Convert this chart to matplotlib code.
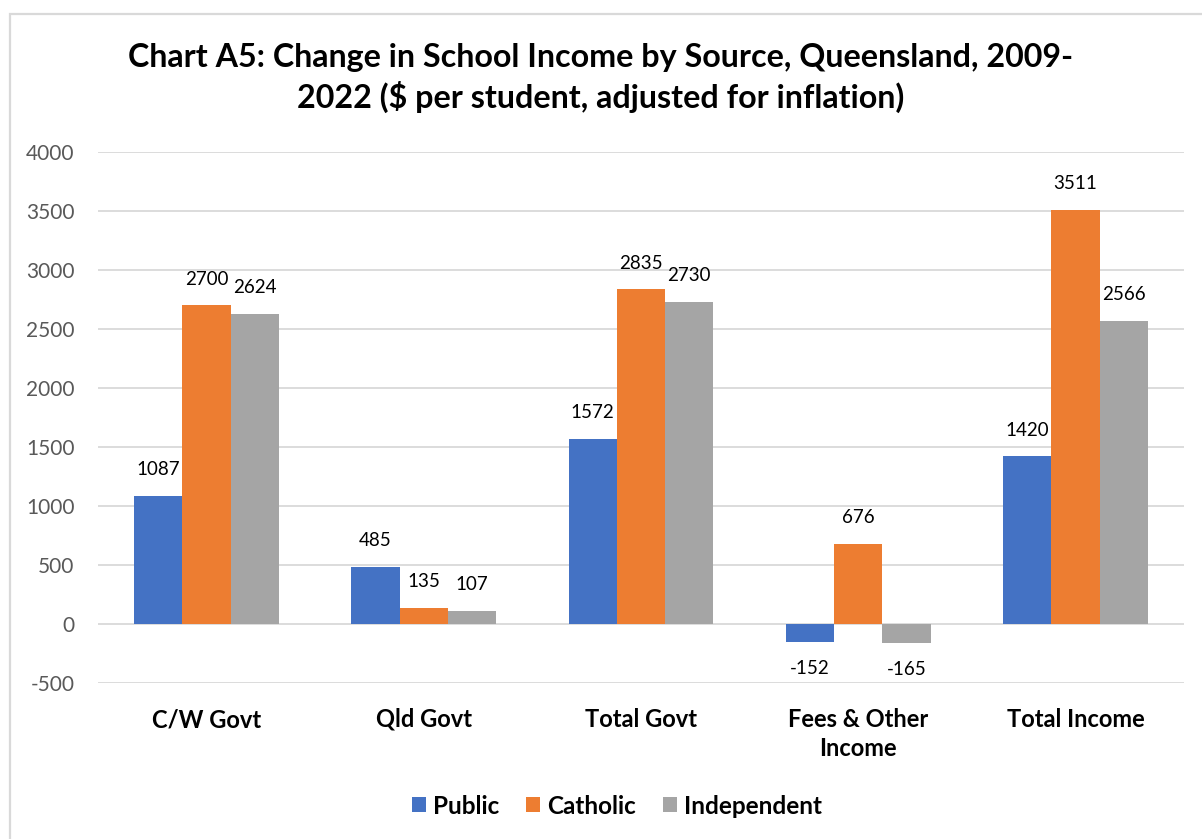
import numpy as np
import matplotlib
matplotlib.use("Agg")
import matplotlib.pyplot as plt
from matplotlib.patches import Rectangle

plt.rcParams["font.family"] = ["Lato", "DejaVu Sans"]
plt.rcParams["axes.unicode_minus"] = False

categories = ["C/W Govt", "Qld Govt", "Total Govt", "Fees & Other\nIncome", "Total Income"]
series_names = ["Public", "Catholic", "Independent"]
public = [1087, 485, 1572, -152, 1420]
catholic = [2700, 135, 2835, 676, 3511]
independent = [2624, 107, 2730, -165, 2566]
colors = ["#4472C4", "#ED7D31", "#A5A5A5"]

fig = plt.figure(figsize=(12.02, 8.39), dpi=100)
ax = fig.add_axes([98 / 1202, 1 - 683 / 839, (1184 - 98) / 1202, (683 - 152) / 839])

# outer chart frame (open on right and bottom)
fig.patches.append(Rectangle((10 / 1202, -0.1), 1.2, 1 - 14 / 839 + 0.1,
                             transform=fig.transFigure, fill=False,
                             edgecolor="#d9d9d9", linewidth=1.6, zorder=0))

x = np.arange(len(categories))
w = 1 / 4.5
for i, (name, vals, c) in enumerate(zip(series_names, [public, catholic, independent], colors)):
    pos = x + (i - 1) * w
    ax.bar(pos, vals, width=w, color=c, label=name, zorder=3)
    for px, v in zip(pos, vals):
        off = 19 if v >= 0 else -19
        ax.annotate(f"{v}", (px, v), xytext=(0, off), textcoords="offset points",
                    ha="center", va="center", fontsize=13.5, color="#000000")

ax.set_xlim(-0.5, len(categories) - 0.5)
ax.set_ylim(-500, 4000)
ax.set_yticks(np.arange(-500, 4001, 500))
ax.yaxis.grid(True, color="#d9d9d9", linewidth=1.3, zorder=0)
ax.set_axisbelow(True)
for s in ax.spines.values():
    s.set_visible(False)
ax.tick_params(axis="y", length=0, pad=17, labelsize=15, labelcolor="#595959")
ax.tick_params(axis="x", length=0, pad=18, labelsize=17)
ax.set_xticks(x)
ax.set_xticklabels(categories, fontweight="bold", linespacing=1.3)

fig.text(0.5, 1 - 78 / 839,
         "Chart A5: Change in School Income by Source, Queensland, 2009-\n2022 ($ per student, adjusted for inflation)",
         ha="center", va="center", fontsize=23.2, fontweight="bold", linespacing=1.35)

fig.legend(loc="center", bbox_to_anchor=(617 / 1202, 1 - 806 / 839), ncol=3, frameon=False,
           prop={"size": 17.5, "weight": "bold"}, handlelength=0.58, handleheight=0.58,
           handletextpad=0.3, columnspacing=1.1)

fig.savefig("out.png", dpi=100)
